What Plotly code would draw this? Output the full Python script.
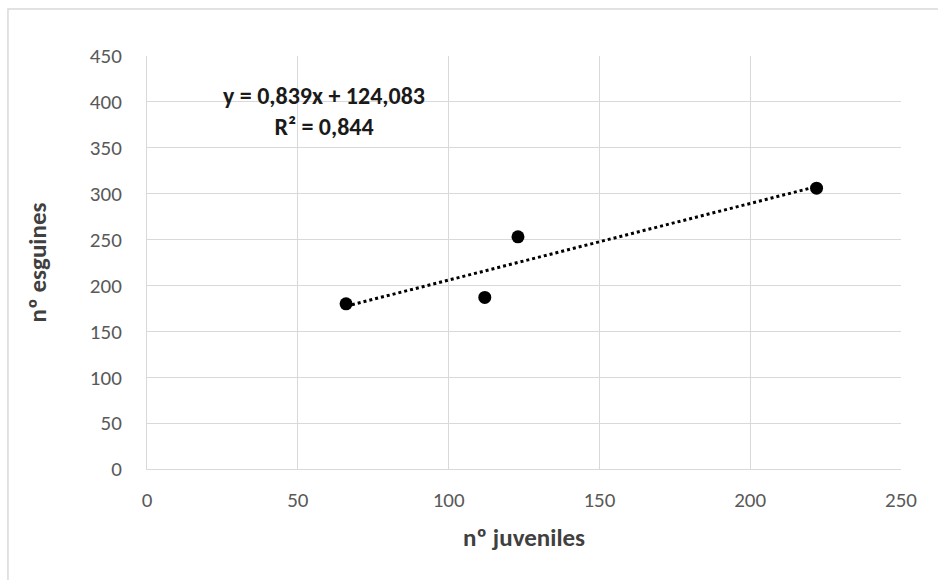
import numpy as np
import plotly.graph_objects as go

juveniles = [66, 112, 123, 222]
esguines = [180, 187, 253, 306]
x_ticks = [0, 50, 100, 150, 200, 250]
y_ticks = [0, 50, 100, 150, 200, 250, 300, 350, 400, 450]
eq_text = "y = 0,839x + 124,083"
r2_text = "R² = 0,844"

slope, intercept = np.polyfit(juveniles, esguines, 1)
tx = np.array([min(juveniles), max(juveniles)])
ty = slope * tx + intercept

FONT = "Carlito, Calibri, Lato, sans-serif"

fig = go.Figure()
fig.add_trace(go.Scatter(x=tx, y=ty, mode="lines",
                         line=dict(color="black", width=3, dash="dot"),
                         showlegend=False, hoverinfo="skip"))
fig.add_trace(go.Scatter(x=juveniles, y=esguines, mode="markers",
                         marker=dict(color="black", size=13),
                         showlegend=False))

fig.add_annotation(x=58.7, y=390.5, xref="x", yref="y",
                   text="<b>%s</b><br><b>%s</b>" % (eq_text, r2_text),
                   showarrow=False, xanchor="center", yanchor="middle", align="center",
                   font=dict(family=FONT, size=24, color="#1a1a1a"))

fig.add_shape(type="rect", xref="paper", yref="paper",
              x0=-0.1844, x1=1.06, y0=-0.30, y1=1.1138,
              line=dict(color="#d9d9d9", width=1.5), fillcolor="rgba(0,0,0,0)", layer="below")

axis_common = dict(showgrid=True, gridcolor="#d9d9d9", gridwidth=1,
                   showline=True, linecolor="#d9d9d9", linewidth=1, mirror=False,
                   zeroline=False, ticks="outside",
                   tickcolor="rgba(0,0,0,0)",
                   tickfont=dict(family=FONT, size=21, color="#595959"))

fig.update_layout(
    width=938, height=580,
    margin=dict(l=147, r=37, t=56, b=111),
    paper_bgcolor="white", plot_bgcolor="white",
    xaxis=dict(range=[0, 250], tickvals=x_ticks, ticklen=12, **axis_common,
               title=dict(text="<b>nº juveniles</b>", standoff=16,
                          font=dict(family=FONT, size=25, color="#404040"))),
    yaxis=dict(range=[0, 450], tickvals=y_ticks, ticklen=20, **axis_common,
               title=dict(text="<b>nº esguines</b>", standoff=36,
                          font=dict(family=FONT, size=25, color="#404040"))),
)

fig.write_html("out.html")
